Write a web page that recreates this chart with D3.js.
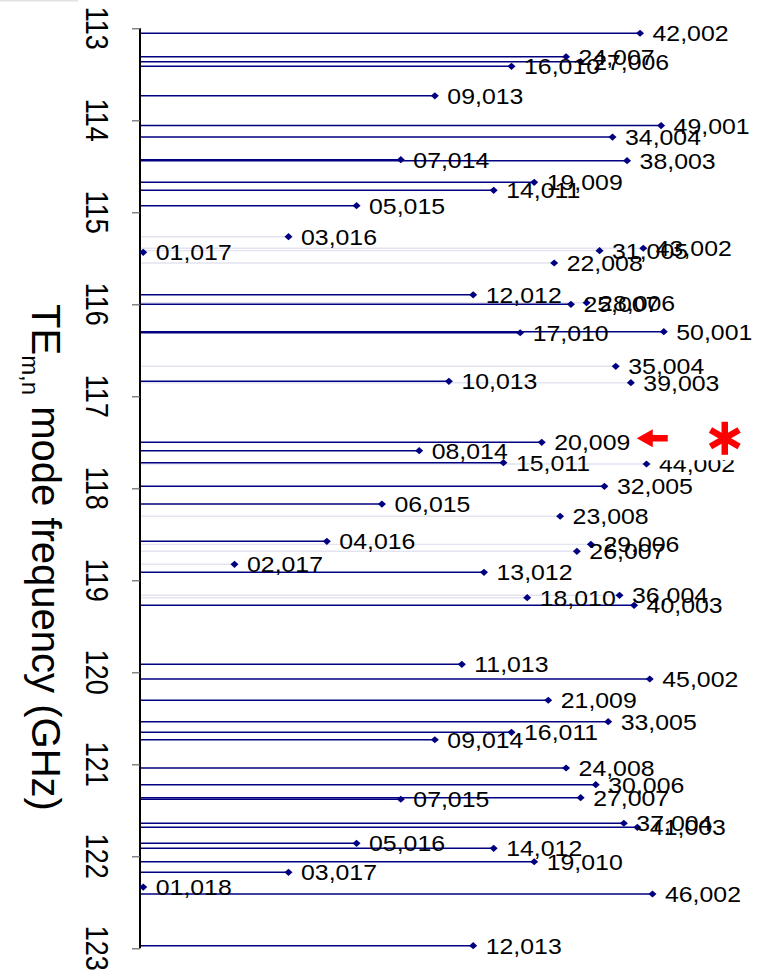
<!DOCTYPE html>
<html>
<head>
<meta charset="utf-8">
<script src="https://cdn.jsdelivr.net/npm/d3@7"></script>
<style>
  html, body { margin: 0; padding: 0; background: #fff; }
  svg { display: block; }
  text { font-family: "Liberation Sans", Arial, Helvetica, sans-serif; }
</style>
</head>
<body>
<svg id="chart" width="757" height="970"></svg>
<script>
// ---- data ----
// Modes drawn with a solid (dark) line from the axis
const strongModes = ["42,002","24,007","27,006","16,010","09,013","49,001","34,004","07,014","38,003","19,009",
  "14,011","05,015","12,012","25,007","17,010","50,001","10,013","20,009","08,014","15,011",
  "32,005","06,015","04,016","13,012","40,003","11,013","45,002","21,009","33,005","16,011",
  "09,014","24,008","30,006","07,015","27,007","37,004","41,003","05,016","14,012","19,010",
  "03,017","01,018","46,002","12,013"];
const strongFreqGHz = [113.054,113.309,113.363,113.413,113.734,114.057,114.182,114.428,114.439,114.674,
  114.761,114.928,115.897,116.000,116.309,116.298,116.837,117.500,117.591,117.722,
  117.978,118.171,118.576,118.913,119.272,119.913,120.073,120.304,120.537,120.652,
  120.733,121.040,121.222,121.380,121.363,121.641,121.685,121.859,121.913,122.059,
  122.174,122.334,122.410,122.972];
const strongPosition = [92.6,78.9,81.6,68.8,54.6,96.5,87.5,48.3,90.2,73.0,
  65.5,40.1,61.7,79.8,70.4,97.0,57.2,74.4,51.7,67.3,
  86.0,44.8,34.6,63.7,91.5,59.6,94.4,75.6,86.7,68.8,
  54.6,78.9,84.4,48.3,81.6,89.6,92.1,40.1,65.5,73.0,
  27.5,0.6,94.9,61.7];

// Modes drawn with a faint line
const weakModes = ["03,016","43,002","31,005","01,017","22,008","28,006","35,004","39,003","44,002","23,008",
  "29,006","26,007","02,017","36,004","18,010"];
const weakFreqGHz = [115.265,115.391,115.417,115.435,115.551,115.983,116.674,116.852,117.736,118.304,
  118.609,118.685,118.826,119.163,119.189];
const weakPosition = [27.5,93.2,85.1,0.6,76.7,82.7,88.1,90.9,93.8,77.8,
  83.5,80.9,17.5,88.8,71.7];

const yTicks = [113,114,115,116,117,118,119,120,121,122,123];
const highlightedMode = "20,009";

// ---- drawing ----
const svg = d3.select("#chart");
const W = 757, H = 970;
svg.append("rect").attr("width", W).attr("height", H).attr("fill", "#fff");
svg.append("rect").attr("x", 0).attr("y", 0).attr("width", 78).attr("height", 1.5).attr("fill", "#e2e2e2");

const y = d3.scaleLinear().domain([113, 123]).range([28.3, 948.3]);
const x = d3.scaleLinear().domain([0, 100]).range([140, 680]);

const strong = strongModes.map((m, i) => ({ mode: m, f: strongFreqGHz[i], p: strongPosition[i] }));
const weak = weakModes.map((m, i) => ({ mode: m, f: weakFreqGHz[i], p: weakPosition[i] }));
const all = strong.concat(weak);

// faint lines
svg.append("g").selectAll("line").data(weak).join("line")
  .attr("x1", x(0)).attr("x2", d => x(d.p))
  .attr("y1", d => y(d.f)).attr("y2", d => y(d.f))
  .attr("stroke", "#e3e3f1").attr("stroke-width", 1.4);

// solid lines
svg.append("g").selectAll("line").data(strong).join("line")
  .attr("x1", x(0)).attr("x2", d => x(d.p))
  .attr("y1", d => y(d.f)).attr("y2", d => y(d.f))
  .attr("stroke", "#000080").attr("stroke-width", 1.5);

// axis
const axis = d3.axisLeft(y).tickValues(yTicks).tickSize(8).tickFormat("");
const gAxis = svg.append("g").attr("transform", `translate(${x(0)},0)`).call(axis);
gAxis.select(".domain").attr("stroke", "#000").attr("stroke-width", 2)
  .attr("d", `M0,${y(113)}V${y(123)}`);
gAxis.selectAll(".tick line").attr("stroke", "#666").attr("stroke-width", 1.2);

// rotated tick labels
svg.append("g").selectAll("text").data(yTicks).join("text")
  .attr("transform", d => `translate(86,${y(d)}) rotate(90) scale(1,1.15)`)
  .attr("text-anchor", "middle")
  .attr("font-size", 27)
  .attr("fill", "#000")
  .text(d => d);

// axis title
const title = svg.append("text")
  .attr("transform", "translate(32,304) rotate(90)")
  .attr("font-size", 40).attr("fill", "#000");
title.append("tspan").text("TE");
title.append("tspan").attr("font-size", 24).attr("dy", 10).text("m,n");
title.append("tspan").attr("dy", -10).text(" mode frequency (GHz)");

// markers
const diamond = "M0,-3.6L4,0L0,3.6L-4,0Z";
svg.append("g").selectAll("path").data(all).join("path")
  .attr("d", diamond)
  .attr("transform", d => `translate(${x(d.p)},${y(d.f)})`)
  .attr("fill", "#000080");

// labels
svg.append("g").selectAll("text").data(all).join("text")
  .attr("transform", d => `translate(${x(d.p) + 12.5},${y(d.f) + 8}) scale(1.13,1)`)
  .attr("font-size", 22)
  .attr("fill", "#000")
  .text(d => d.mode);

// annotation: red arrow and asterisk next to the highlighted mode
const hl = strong.find(d => d.mode === highlightedMode);
const ay = y(hl.f) - 4;
const ax = x(hl.p) + 95;
// white annotation box (clips the top of the label beneath, as in the reference)
svg.append("rect").attr("x", ax + 1).attr("y", ay - 22).attr("width", 110).attr("height", 44).attr("fill", "#fff");
svg.append("path")
  .attr("d", `M${ax},${ay} L${ax + 16},${ay - 9} L${ax + 16},${ay - 3.2} L${ax + 31},${ay - 3.2} L${ax + 31},${ay + 3.2} L${ax + 16},${ay + 3.2} L${ax + 16},${ay + 9} Z`)
  .attr("fill", "#ff0000");
const cx = ax + 88, cy = ay, r = 16.5;
const star = svg.append("g").attr("stroke", "#ff0000").attr("stroke-width", 6.5);
[90, 30, 150].forEach(a => {
  const rad = a * Math.PI / 180;
  star.append("line")
    .attr("x1", cx - r * Math.cos(rad)).attr("y1", cy - r * Math.sin(rad))
    .attr("x2", cx + r * Math.cos(rad)).attr("y2", cy + r * Math.sin(rad));
});
</script>
</body>
</html>
